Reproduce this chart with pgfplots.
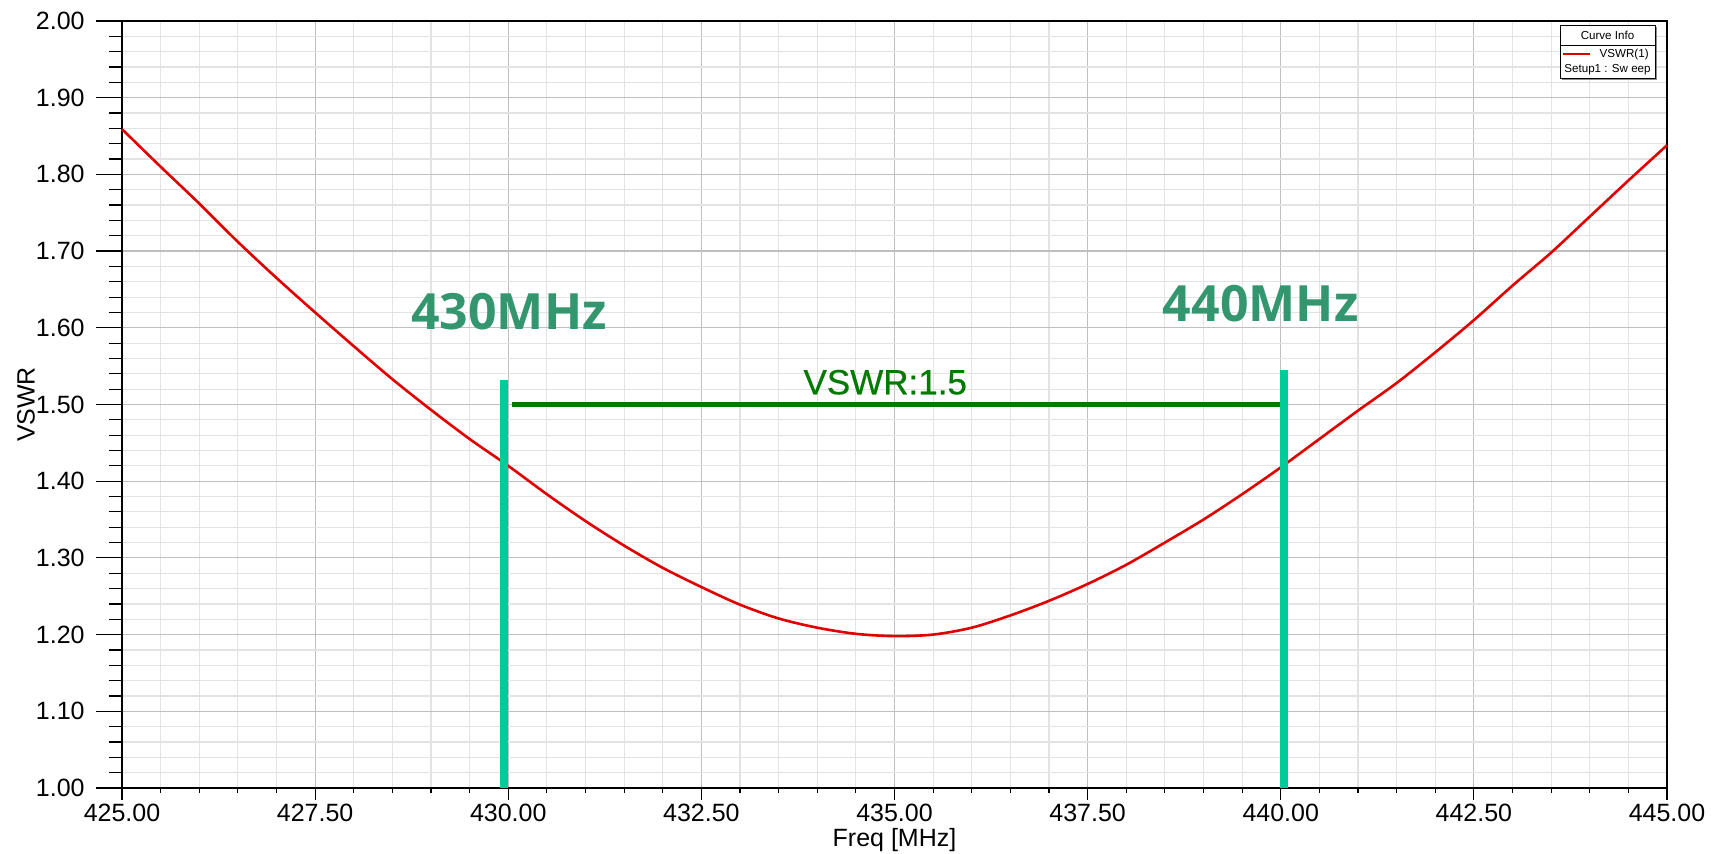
\documentclass[border=0pt]{standalone}
\usepackage{pgfplots}
\pgfplotsset{compat=1.18}
\usepackage{fontspec}
\setmainfont{Liberation Sans}
\newfontfamily\annfont{Open Sans}
\newfontfamily\vswrfont{Liberation Sans}[FakeBold=0.5]
\definecolor{curvered}{RGB}{224,0,0}
\definecolor{markgreen}{RGB}{0,204,153}
\definecolor{bandgreen}{RGB}{0,122,0}
\definecolor{labgreen}{RGB}{52,150,110}
\begin{document}
\begin{tikzpicture}
\begin{axis}[name=ax, at={(0,0)}, anchor=south west,
  scale only axis, width=772.5pt, height=383.5pt,
  xmin=425, xmax=445, ymin=1, ymax=2,
  xtick={425,427.5,430,432.5,435,437.5,440,442.5,445},
  ytick={1,1.1,1.2,1.3,1.4,1.5,1.6,1.7,1.8,1.9,2},
  minor x tick num=4, minor y tick num=4,
  grid=both,
  major grid style={color=black!25, line width=0.6pt},
  minor grid style={color=black!11, line width=0.6pt},
  tick pos=left,
  tick align=outside,
  major tick length=6pt, minor tick length=2.5pt,
  tick style={black, line width=0.6pt},
  axis line style={black, line width=0.7pt},
  /pgf/number format/assume math mode=true,
  xticklabel style={anchor=north, inner sep=0pt, /pgf/number format/.cd, fixed, fixed zerofill, precision=2},
  yticklabel style={anchor=east, inner sep=0pt, /pgf/number format/.cd, fixed, fixed zerofill, precision=2},
  xticklabel shift=2pt, yticklabel shift=12.5pt,
  ticklabel style={font=\fontsize{12.5}{14}\selectfont},
  xlabel={Freq [MHz]}, ylabel={VSWR},
  label style={font=\fontsize{12.5}{14}\selectfont},
  xlabel style={at={(axis description cs:0.5,-0.05215)}, anchor=north, inner sep=0pt},
  ylabel style={at={(axis description cs:-0.0621,0.5)}, anchor=center, inner sep=0pt},
  clip=false,
]
\addplot[curvered, line width=1.3pt, smooth] table {
x y
425 1.859
425.5 1.810
426 1.762
426.5 1.712
427 1.665
427.5 1.620
428 1.576
428.5 1.533
429 1.493
429.5 1.455
430 1.420
430.5 1.383
431 1.348
431.5 1.316
432 1.287
432.5 1.262
433 1.239
433.5 1.221
434 1.209
434.5 1.201
435 1.198
435.5 1.200
436 1.209
436.5 1.225
437 1.244
437.5 1.266
438 1.291
438.5 1.320
439 1.350
439.5 1.383
440 1.418
440.5 1.455
441 1.492
441.5 1.528
442 1.568
442.5 1.610
443 1.655
443.5 1.698
444 1.745
444.5 1.792
445 1.838
};
\addplot[bandgreen, line width=2.5pt] coordinates {(430.05,1.5) (440.0,1.5)};
\addplot[markgreen, line width=4pt] coordinates {(429.95,1.0) (429.95,1.532)};
\addplot[markgreen, line width=4pt] coordinates {(440.04,1.0) (440.04,1.545)};
\node[text=labgreen, font=\annfont\bfseries\fontsize{25}{28}\selectfont, inner sep=0pt] at (axis cs:430.01,1.621) {430MHz};
\node[text=labgreen, font=\annfont\bfseries\fontsize{25}{28}\selectfont, inner sep=0pt] at (axis cs:439.74,1.632) {440MHz};
\node[text=bandgreen, font=\vswrfont\fontsize{17.5}{20}\selectfont, inner sep=0pt] at (axis cs:434.88,1.529) {VSWR:1.5};
\end{axis}
% overlay axis: longer y ticks only
\begin{axis}[at={(0,0)}, anchor=south west,
  scale only axis, width=772.5pt, height=383.5pt,
  xmin=425, xmax=445, ymin=1, ymax=2,
  xtick=\empty,
  ytick={1,1.1,1.2,1.3,1.4,1.5,1.6,1.7,1.8,1.9,2},
  minor y tick num=4,
  yticklabels={},
  tick pos=left, tick align=outside,
  major tick length=13pt, minor tick length=6.5pt,
  tick style={black, line width=0.6pt},
  axis line style={draw=none},
]
\end{axis}
% legend box (Curve Info)
\begin{scope}[shift={(ax.north east)}]
\fill[black!45] (-52.5pt,-3pt) rectangle (-5pt,-29.5pt);
\draw[fill=white, line width=0.4pt] (-53.5pt,-2pt) rectangle (-6pt,-28.5pt);
\draw[line width=0.4pt] (-53.5pt,-12pt) -- (-6pt,-12pt);
\node[font=\fontsize{5.8}{7}\selectfont, inner sep=0pt] at (-29.75pt,-7pt) {Curve Info};
\draw[curvered, line width=0.8pt] (-52pt,-16.5pt) -- (-38.5pt,-16.5pt);
\node[font=\fontsize{5.8}{7}\selectfont, inner sep=0pt, anchor=east] at (-9pt,-16.8pt) {VSWR(1)};
\node[font=\fontsize{5.8}{7}\selectfont, inner sep=0pt] at (-29.75pt,-24.2pt) {Setup1 : Sw eep};
\end{scope}
\pgfresetboundingbox
\useasboundingbox (-61pt,-33pt) rectangle (797.5pt,394pt);
\end{tikzpicture}
\end{document}
